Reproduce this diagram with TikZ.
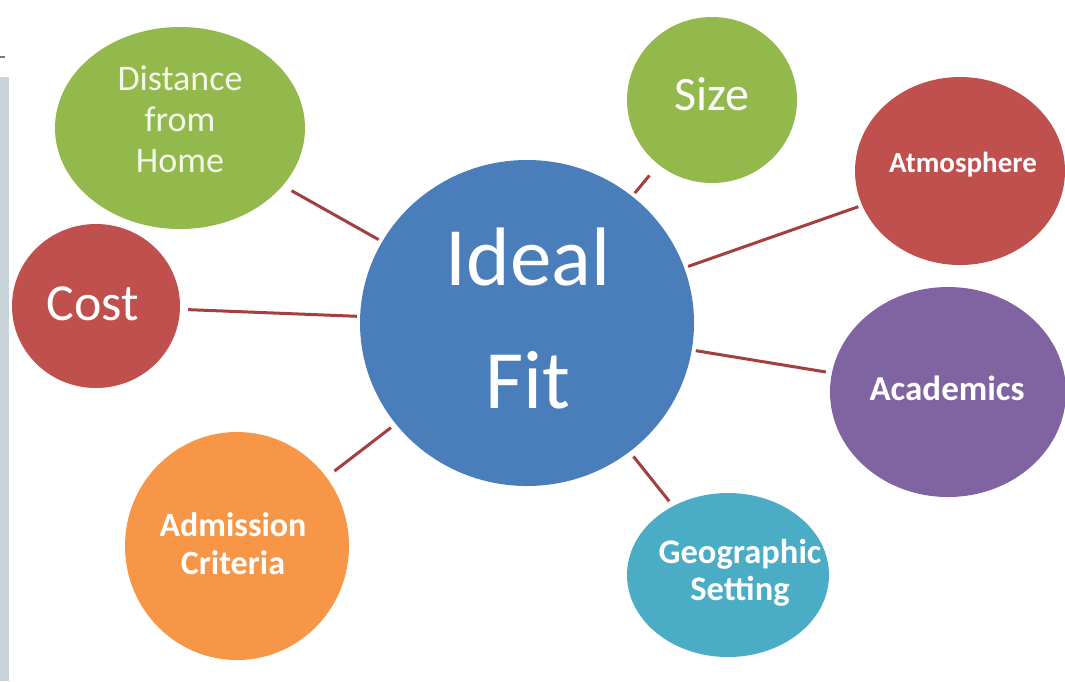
\documentclass[tikz,border=0pt]{standalone}
\usepackage{fontspec}
\setmainfont{Carlito}
\usetikzlibrary{shapes.geometric}
\definecolor{cgreen}{HTML}{93B84C}
\definecolor{cred}{HTML}{C0504D}
\definecolor{cblue}{HTML}{4A7EBB}
\definecolor{cpurple}{HTML}{8064A2}
\definecolor{corange}{HTML}{F79646}
\definecolor{cteal}{HTML}{4BACC6}
\definecolor{clink}{HTML}{A33F3F}
\definecolor{cstrip}{HTML}{C9D3DA}
\definecolor{cdash}{HTML}{5F8088}
\definecolor{ctext}{HTML}{F4F8EA}
\tikzset{
  bubble/.style={ellipse, inner sep=0pt},
  btext/.style={text=white, align=center, inner sep=0pt},
  link/.style={draw=clink, line width=3pt},
}
\begin{document}
\begin{tikzpicture}[x=1pt,y=-1pt]
\useasboundingbox[fill=white] (0,0) rectangle (1065,681);
\fill[cstrip] (0,77) rectangle (9,681);
\draw[cdash, line width=2pt] (0,57) -- (5,57);

\node[bubble, fill=cblue, minimum width=334pt, minimum height=326pt] (ideal) at (527,323) {};
\node[bubble, fill=cgreen, minimum width=250pt, minimum height=202pt] (dist) at (180,128) {};
\node[bubble, fill=cgreen, minimum width=170pt, minimum height=166pt] (size) at (712,100) {};
\node[bubble, fill=cred, minimum width=210pt, minimum height=188pt] (atmo) at (960,171) {};
\node[bubble, fill=cred, minimum width=168pt, minimum height=164pt] (cost) at (96,306) {};
\node[bubble, fill=cpurple, minimum width=236pt, minimum height=210pt] (acad) at (948,392) {};
\node[bubble, fill=corange, minimum width=224pt, minimum height=228pt] (adm) at (237,546) {};
\node[bubble, fill=cteal, minimum width=202pt, minimum height=164pt] (geo) at (728,575) {};

\node[btext, font=\fontsize{83}{123}\selectfont] (ideal-t) at (528,318) {Ideal\\Fit};
\node[btext, text=ctext, font=\fontsize{36}{41}\selectfont] (dist-t) at (180,119) {Distance\\from\\Home};
\node[btext, font=\fontsize{48}{56}\selectfont] (size-t) at (712,94) {Size};
\node[btext, font=\bfseries\fontsize{29}{34}\selectfont] (atmo-t) at (963,165) {Atmosphere};
\node[btext, font=\fontsize{52}{60}\selectfont] (cost-t) at (93,304) {Cost};
\node[btext, font=\bfseries\fontsize{35}{40}\selectfont] (acad-t) at (947,388) {Academics};
\node[btext, font=\bfseries\fontsize{34}{38}\selectfont] (adm-t) at (233,544) {Admission\\Criteria};
\node[btext, font=\bfseries\fontsize{34.5}{37}\selectfont] (geo-t) at (740,573) {Geographic\\Setting};

\draw[link, shorten <=4pt, shorten >=10pt] (ideal) -- (dist);
\draw[link, shorten <=4pt, shorten >=14pt] (ideal) -- (size);
\draw[link, shorten <=4pt, shorten >=4pt] (ideal) -- (atmo);
\draw[link, shorten <=3pt, shorten >=8pt] (ideal) -- (cost);
\draw[link, shorten <=4pt, shorten >=6pt] (ideal) -- (acad);
\draw[link, shorten <=6pt, shorten >=10pt] (ideal) -- (adm);
\draw[link, shorten <=6pt, shorten >=6pt] (ideal) -- (geo);
\end{tikzpicture}
\end{document}
